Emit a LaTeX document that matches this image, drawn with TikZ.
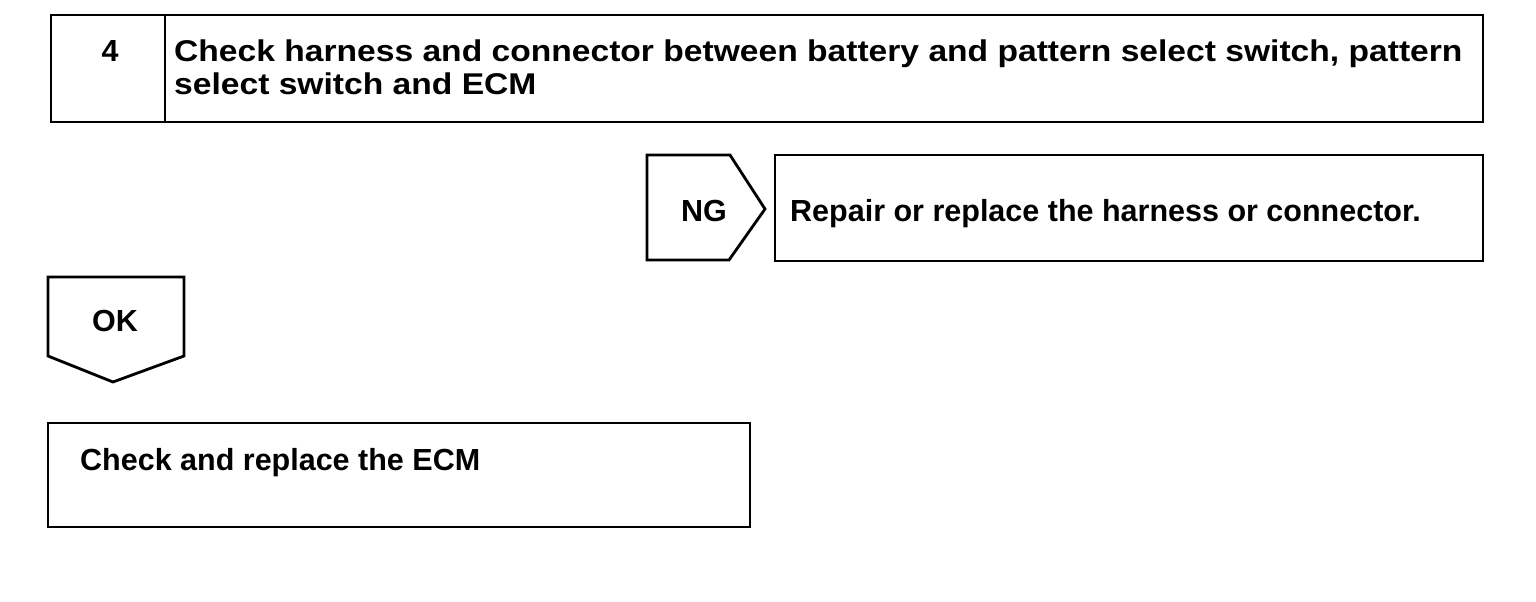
\documentclass[tikz,border=0pt]{standalone}
\usepackage{fontspec}
\setmainfont{Liberation Sans}
\newfontfamily\widefont{Liberation Sans}[FakeStretch=1.12]
\begin{document}
\begin{tikzpicture}[x=1pt,y=-1pt,
  frame/.style={draw=black,line width=2.8pt,line join=miter},
  lbl/.style={font=\bfseries\fontsize{30.5}{32}\selectfont,inner sep=0pt},
  ttl/.style={font=\widefont\bfseries\fontsize{30}{32}\selectfont,inner sep=0pt}]
\useasboundingbox (0,0) rectangle (1536,602);
% top box
\draw[frame] (51,15) rectangle (1483,122);
\draw[frame] (165,15) -- (165,122);
\node[lbl,anchor=base] (num) at (110,62) {4};
\node[ttl,anchor=base west] (title) at (174,62) {Check harness and connector between battery and pattern select switch, pattern};
\node[ttl,anchor=base west] (title2) at (174,94) {select switch and ECM};
% NG
\draw[frame] (647,155) -- (730,155) -- (765,209) -- (729,260) -- (647,260) -- cycle;
\node[lbl,anchor=base] (ng) at (704,221) {NG};
\draw[frame] (775,155) rectangle (1483,261);
\node[lbl,anchor=base west] (repair) at (790,221) {Repair or replace the harness or connector.};
% OK
\draw[frame] (48,277) -- (184,277) -- (184,356) -- (113,382) -- (48,356) -- cycle;
\node[lbl,anchor=base] (ok) at (115,331) {OK};
% ECM
\draw[frame] (48,423) rectangle (750,527);
\node[lbl,anchor=base west] (ecm) at (80,470) {Check and replace the ECM};
\end{tikzpicture}
\end{document}
